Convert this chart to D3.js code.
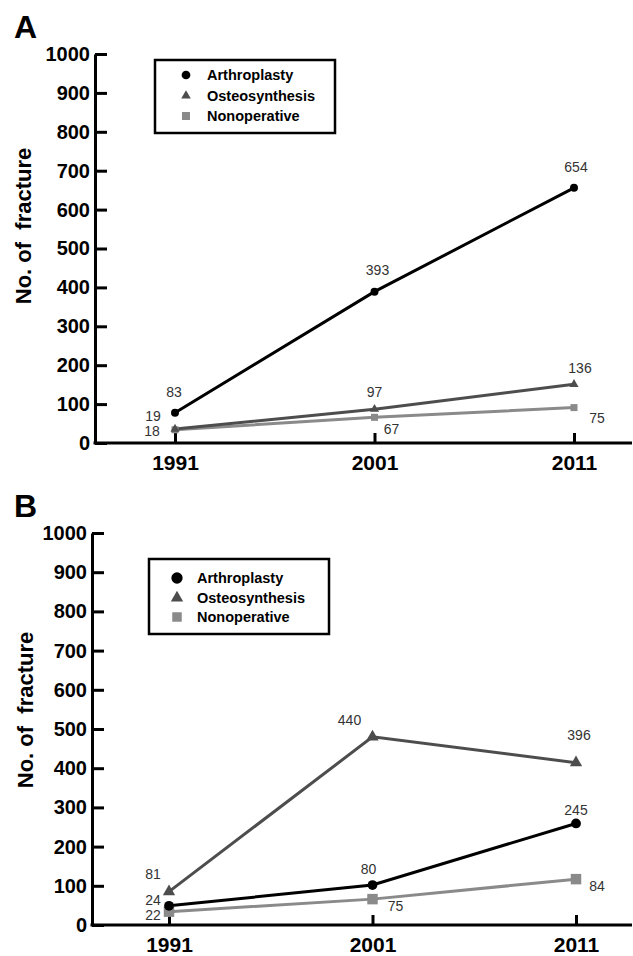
<!DOCTYPE html>
<html>
<head>
<meta charset="utf-8">
<script src="https://cdn.jsdelivr.net/npm/d3@7"></script>
<style>
	body { margin: 0; background: #fff; }
	text { font-family: "Liberation Sans", Arial, sans-serif; }
</style>
</head>
<body>
<script>

var years = [1991, 2001, 2011],
	yTicks = [0, 100, 200, 300, 400, 500, 600, 700, 800, 900, 1000],
	seriesNames = ['Arthroplasty', 'Osteosynthesis', 'Nonoperative'];

// panel A : plotted values and the numbers printed next to them
var aArthroplasty = [78, 389, 656],
	aOsteosynthesis = [36, 87, 151],
	aNonoperative = [34, 66, 91],
	aArthroplastyLabels = [83, 393, 654],
	aOsteosynthesisLabels = [19, 97, 136],
	aNonoperativeLabels = [18, 67, 75];

// panel B
var bArthroplasty = [49, 102, 259],
	bOsteosynthesis = [85, 480, 414],
	bNonoperative = [34, 66, 117],
	bArthroplastyLabels = [24, 80, 245],
	bOsteosynthesisLabels = [81, 440, 396],
	bNonoperativeLabels = [22, 75, 84];

var colors = ['#000000', '#4d4d4d', '#8a8a8a'],
	shapes = [d3.symbolCircle, d3.symbolTriangle, d3.symbolSquare];

var svg = d3.select('body').append('svg')
	.attr('width', 633)
	.attr('height', 956);

var panels = [
	{
		letter: 'A', letterY: 38,
		axisX: 95, yRange: [443, 54], xRange: [175, 574],
		titleX: 23, titleY: 226,
		values: [aArthroplasty, aOsteosynthesis, aNonoperative],
		labels: [aArthroplastyLabels, aOsteosynthesisLabels, aNonoperativeLabels],
		// label offsets from each point, in px
		offsets: [
			[[-1, -21], [3, -22], [2, -21]],
			[[-22, -13], [0, -17], [6, -16]],
			[[-23, 1], [17, 12], [23, 10]]
		],
		sizes: [50, 36, 49],
		legend: { x: 155, y: 60, w: 180, h: 73, mx: 186, tx: 207, rows: [80, 100.7, 121], sizes: [60, 40, 64] }
	},
	{
		letter: 'B', letterY: 517,
		axisX: 92, yRange: [925, 533], xRange: [169, 576],
		titleX: 25, titleY: 710,
		values: [bArthroplasty, bOsteosynthesis, bNonoperative],
		labels: [bArthroplastyLabels, bOsteosynthesisLabels, bNonoperativeLabels],
		offsets: [
			[[-16, -6], [-4, -16], [0, -13]],
			[[-16, -18], [-23, -17], [3, -28]],
			[[-16, 3], [23, 7], [21, 7]]
		],
		sizes: [75, 66, 110],
		legend: { x: 149, y: 559, w: 180, h: 75, mx: 177, tx: 197, rows: [583, 603, 622], sizes: [100, 66, 90] }
	}
];

panels.forEach(function(p) {

	var x = d3.scaleLinear().domain([1991, 2011]).range(p.xRange),
		y = d3.scaleLinear().domain([0, 1000]).range(p.yRange),
		g = svg.append('g');

	// panel letter
	g.append('text')
		.text(p.letter)
		.attr('x', 14)
		.attr('y', p.letterY)
		.attr('font-size', 32)
		.attr('font-weight', 'bold');

	// y axis, ticks pointing inward
	var yAxis = g.append('g')
		.attr('transform', 'translate(' + p.axisX + ',0)')
		.call(d3.axisLeft(y).tickValues(yTicks).tickFormat(d3.format('d')).tickSize(-12).tickSizeOuter(0).tickPadding(5));
	yAxis.select('.domain').attr('stroke-width', 3);
	yAxis.selectAll('.tick line').attr('stroke-width', 3);
	yAxis.selectAll('.tick text')
		.attr('font-size', 20)
		.attr('font-weight', 'bold')
		.attr('fill', '#000')
		.style('font-family', '"Liberation Sans", Arial, sans-serif');

	// x axis line runs to the right edge
	g.append('line')
		.attr('x1', p.axisX - 1.5)
		.attr('x2', 632)
		.attr('y1', y(0))
		.attr('y2', y(0))
		.attr('stroke', '#000')
		.attr('stroke-width', 3);

	var xAxis = g.append('g')
		.attr('transform', 'translate(0,' + y(0) + ')')
		.call(d3.axisBottom(x).tickValues(years).tickFormat(d3.format('d')).tickSize(-10).tickPadding(12));
	xAxis.select('.domain').remove();
	xAxis.selectAll('.tick line').attr('stroke-width', 3);
	xAxis.selectAll('.tick text')
		.attr('font-size', 21)
		.attr('font-weight', 'bold')
		.attr('fill', '#000')
		.style('font-family', '"Liberation Sans", Arial, sans-serif');

	// y axis title
	g.append('text')
		.text('No. of  fracture')
		.style('white-space', 'pre')
		.attr('transform', 'translate(' + p.titleX + ',' + p.titleY + ') rotate(-90)')
		.attr('text-anchor', 'middle')
		.attr('dominant-baseline', 'central')
		.attr('font-size', 22)
		.attr('font-weight', 'bold');

	var line = d3.line()
		.x(function(d, i) { return x(years[i]); })
		.y(function(d) { return y(d); });

	// lines, back to front
	[2, 1, 0].forEach(function(s) {
		g.append('path')
			.attr('d', line(p.values[s]))
			.attr('fill', 'none')
			.attr('stroke', colors[s])
			.attr('stroke-width', 3);
	});

	[2, 1, 0].forEach(function(s) {
		g.selectAll('.m' + s)
			.data(p.values[s])
			.enter().append('path')
			.attr('d', d3.symbol().type(shapes[s]).size(p.sizes[s]))
			.attr('transform', function(d, i) { return 'translate(' + x(years[i]) + ',' + y(d) + ')'; })
			.attr('fill', colors[s]);

		g.selectAll('.l' + s)
			.data(p.labels[s])
			.enter().append('text')
			.text(function(d) { return d; })
			.attr('x', function(d, i) { return x(years[i]) + p.offsets[s][i][0]; })
			.attr('y', function(d, i) { return y(p.values[s][i]) + p.offsets[s][i][1]; })
			.attr('text-anchor', 'middle')
			.attr('dominant-baseline', 'central')
			.attr('font-size', 14)
			.attr('fill', '#333');
	});

	// legend
	var lg = p.legend;
	g.append('rect')
		.attr('x', lg.x)
		.attr('y', lg.y)
		.attr('width', lg.w)
		.attr('height', lg.h)
		.attr('fill', '#fff')
		.attr('stroke', '#000')
		.attr('stroke-width', 2.5);

	seriesNames.forEach(function(name, s) {
		g.append('path')
			.attr('d', d3.symbol().type(shapes[s]).size(lg.sizes[s]))
			.attr('transform', 'translate(' + lg.mx + ',' + (lg.rows[s] - 5) + ')')
			.attr('fill', colors[s]);
		g.append('text')
			.text(name)
			.attr('x', lg.tx)
			.attr('y', lg.rows[s])
			.attr('font-size', 14.5)
			.attr('font-weight', 'bold')
			.attr('fill', '#000');
	});
});

</script>
</body>
</html>
